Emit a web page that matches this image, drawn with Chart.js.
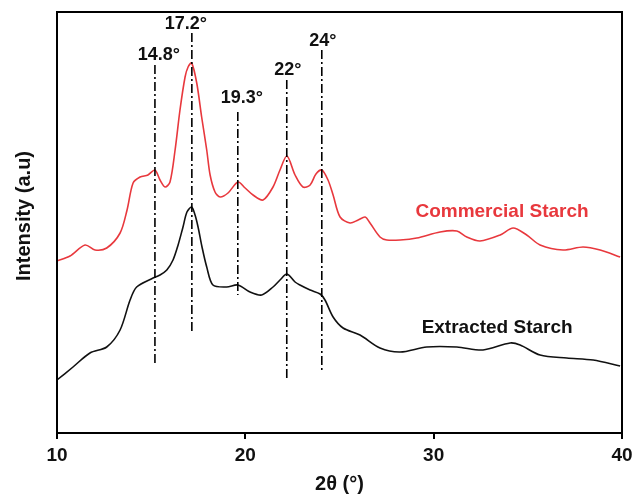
<!DOCTYPE html>
<html>
<head>
<meta charset="utf-8">
<script src="https://cdn.jsdelivr.net/npm/chart.js@4.4.1/dist/chart.umd.min.js"></script>
<style>
  html, body { margin: 0; padding: 0; background: #fff; }
</style>
</head>
<body>
<canvas id="xrdChart" width="635" height="496"></canvas>
<script>
// XRD patterns (intensity in arbitrary units)
const commercialAngle = [10.0, 10.69, 11.49, 12.02, 12.64, 13.35, 13.72, 14.04, 14.41, 14.83, 15.2, 15.47, 15.74, 16.0, 16.27, 16.53, 16.8, 16.96, 17.15, 17.42, 17.68, 17.95, 18.13, 18.39, 18.66, 19.08, 19.61, 19.99, 20.41, 20.94, 21.47, 21.84, 22.21, 22.64, 23.06, 23.44, 23.75, 24.06, 24.39, 24.66, 25.03, 25.56, 25.99, 26.36, 26.62, 27.15, 27.51, 28.22, 29.1, 30.34, 31.23, 31.76, 32.46, 33.53, 34.22, 34.94, 35.65, 36.87, 37.93, 38.84, 39.9];
const commercialIntensity = [172, 177, 188, 183, 185, 200, 223, 250, 256, 258, 263, 253, 246, 251, 283, 323, 356, 366, 370, 350, 316, 283, 258, 241, 236, 240, 251, 245, 238, 233, 246, 263, 277, 258, 246, 248, 259, 263, 253, 238, 216, 210, 213, 216, 210, 196, 193, 193, 195, 201, 202, 196, 192, 198, 205, 198, 188, 183, 186, 183, 176];

const extractedAngle = [10.0, 10.85, 11.75, 12.64, 13.35, 13.88, 14.23, 15.1, 15.47, 15.83, 16.16, 16.43, 16.69, 16.9, 17.15, 17.33, 17.49, 17.7, 17.95, 18.28, 19.01, 19.61, 20.25, 20.87, 21.47, 21.84, 22.21, 22.64, 22.9, 23.44, 23.97, 24.23, 24.66, 25.19, 26.09, 27.15, 28.22, 29.63, 31.23, 32.62, 34.06, 34.59, 35.65, 37.07, 38.47, 39.9];
const extractedIntensity = [53, 66, 80, 86, 103, 133, 146, 155, 158, 163, 173, 188, 206, 221, 226, 218, 206, 186, 166, 148, 146, 148, 141, 138, 146, 153, 159, 151, 148, 143, 139, 133, 116, 105, 98, 85, 81, 86, 86, 83, 90, 88, 78, 75, 73, 67];

// marked peaks
const peakAngles = [15.2, 17.16, 19.6, 22.2, 24.06];
const peakLabels = ["14.8°", "17.2°", "19.3°", "22°", "24°"];

const xTicks = [10, 20, 30, 40];

// where the dash-dot guides start/end and where their labels sit
const peakLineTop = [368, 400, 321, 353, 383];
const peakLineBottom = [68, 100, 138, 53, 63];
const peakLabelY = [378, 409, 335, 363, 392];
const peakLabelShift = [4, -6, 4, 1, 1];

const seriesNotes = [
    { text: "Commercial Starch", x: 33.63, y: 221, color: "#e8383d" },
    { text: "Extracted Starch", x: 33.37, y: 105, color: "#111" }
];

const redLine = "#e8383d";
const labelFont = "'Liberation Sans', Arial, sans-serif";

function toPoints(xs, ys) {
    return xs.map((x, i) => ({ x: x, y: ys[i] }));
}

const decorPlugin = {
    id: "decor",
    afterDatasetsDraw(chart) {
        const ctx = chart.ctx;
        const sx = chart.scales.x;
        const sy = chart.scales.y;
        const a = chart.chartArea;
        ctx.save();

        // frame around plot
        ctx.strokeStyle = "#000";
        ctx.lineWidth = 2;
        ctx.strokeRect(a.left, a.top, a.right - a.left, a.bottom - a.top);

        // dash-dot peak guides
        ctx.lineWidth = 1.6;
        ctx.setLineDash([9, 3, 2, 3]);
        peakAngles.forEach((ang, i) => {
            const px = sx.getPixelForValue(ang);
            ctx.beginPath();
            ctx.moveTo(px, sy.getPixelForValue(peakLineTop[i]));
            ctx.lineTo(px, sy.getPixelForValue(peakLineBottom[i]));
            ctx.stroke();
        });
        ctx.setLineDash([]);

        ctx.textAlign = "center";
        ctx.textBaseline = "middle";
        ctx.fillStyle = "#111";
        ctx.font = "bold 18px " + labelFont;
        peakAngles.forEach((ang, i) => {
            ctx.fillText(peakLabels[i], sx.getPixelForValue(ang) + peakLabelShift[i], sy.getPixelForValue(peakLabelY[i]));
        });

        // series names
        ctx.font = "bold 19px " + labelFont;
        seriesNotes.forEach(n => {
            ctx.fillStyle = n.color;
            ctx.fillText(n.text, sx.getPixelForValue(n.x), sy.getPixelForValue(n.y));
        });

        // y axis title
        ctx.fillStyle = "#111";
        ctx.font = "bold 20px " + labelFont;
        ctx.translate(24, 216);
        ctx.rotate(-Math.PI / 2);
        ctx.fillText("Intensity (a.u)", 0, 0);

        ctx.restore();
    }
};

new Chart(document.getElementById("xrdChart"), {
    type: "line",
    data: {
        datasets: [
            {
                label: "Commercial Starch",
                data: toPoints(commercialAngle, commercialIntensity),
                borderColor: redLine,
                borderWidth: 1.6,
                pointRadius: 0,
                tension: 0.3,
                fill: false
            },
            {
                label: "Extracted Starch",
                data: toPoints(extractedAngle, extractedIntensity),
                borderColor: "#111",
                borderWidth: 1.6,
                pointRadius: 0,
                tension: 0.3,
                fill: false
            }
        ]
    },
    options: {
        responsive: false,
        animation: false,
        devicePixelRatio: 1,
        layout: { padding: { left: 57, right: 13, top: 12, bottom: 0 } },
        plugins: {
            legend: { display: false },
            tooltip: { enabled: false }
        },
        scales: {
            x: {
                type: "linear",
                min: 10,
                max: 40,
                afterBuildTicks: scale => { scale.ticks = xTicks.map(v => ({ value: v })); },
                afterFit: scale => {
                    scale.height = 63;
                    scale.paddingLeft = 0;
                    scale.paddingRight = 0;
                },
                grid: {
                    drawOnChartArea: false,
                    drawTicks: true,
                    tickLength: 6,
                    color: "#000",
                    lineWidth: 2
                },
                border: { display: true, color: "#000", width: 2 },
                ticks: {
                    color: "#111",
                    padding: 5,
                    maxRotation: 0,
                    font: { family: labelFont, size: 19, weight: "bold" }
                },
                title: {
                    display: true,
                    text: "2θ (°)",
                    color: "#111",
                    padding: { top: 0, bottom: 0 },
                    font: { family: labelFont, size: 20, weight: "bold" }
                }
            },
            y: {
                display: false,
                min: 0,
                max: 421
            }
        }
    },
    plugins: [decorPlugin]
});
</script>
</body>
</html>
